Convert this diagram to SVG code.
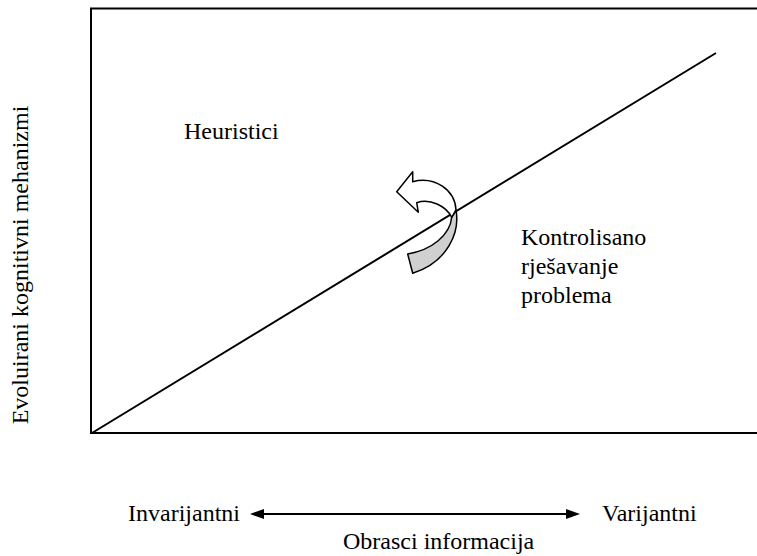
<svg xmlns="http://www.w3.org/2000/svg" width="757" height="556" viewBox="0 0 757 556">
<style>
text{font-family:"Liberation Serif","Times New Roman",serif;font-size:24px;fill:#000}
.ln{fill:none;stroke:#000;stroke-width:2}
</style>
<rect width="757" height="556" fill="#fff"/>
<g id="frame">
<path class="ln" d="M757,8.5 H91 V433 H757" stroke-width="2.4"/>
</g>
<g id="connectors">
<line class="ln" x1="92" y1="433" x2="716" y2="53"/>
<line class="ln" x1="262" y1="514" x2="568" y2="514"/>
<polygon points="250,514 264,509 264,519" fill="#000"/>
<polygon points="580,514 566,509 566,519" fill="#000"/>
</g>
<g id="curved-arrow" stroke="#000" stroke-width="1.5" stroke-linejoin="round">
<path d="M456,210 C460,232 448,262 412.7,273.3 L407.7,254 C432,250 450,235 451.7,217.3 Z" fill="#d0d0d0"/>
<path d="M456,210 C455,190 435,176 412.7,181.7 L412.7,171.7 L396.7,191.7 L418.3,212.3 L416.7,202.7 C430,198 446,206 451.7,217.3 Z" fill="#fff"/>
</g>
<g id="y-label"><text transform="translate(28,265) rotate(-90)" text-anchor="middle">Evoluirani kognitivni mehanizmi</text></g>
<g id="heuristici"><text x="184" y="139">Heuristici</text></g>
<g id="kontrolisano">
<text x="521" y="245">Kontrolisano</text>
<text x="521" y="274">rješavanje</text>
<text x="521" y="303">problema</text>
</g>
<g id="invarijantni"><text x="128" y="521">Invarijantni</text></g>
<g id="varijantni"><text x="602" y="521">Varijantni</text></g>
<g id="x-label"><text x="343" y="549">Obrasci informacija</text></g>
</svg>
